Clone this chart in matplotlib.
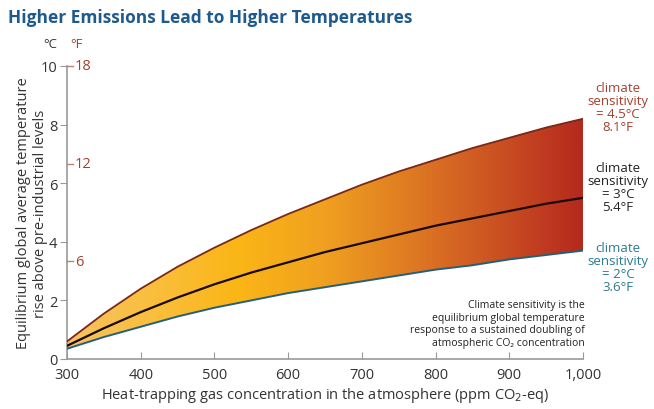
import numpy as np
import matplotlib
matplotlib.use("Agg")
import matplotlib.pyplot as plt
from matplotlib.colors import LinearSegmentedColormap

plt.rcParams['font.family'] = ['Open Sans', 'DejaVu Sans']

# Konzentration (ppm CO2-eq) und Erwärmung (°C)
ppm = [300, 350, 400, 450, 500, 550, 600, 650, 700, 750, 800, 850, 900, 950, 1000]
sens_45 = [0.6, 1.55, 2.4, 3.15, 3.8, 4.4, 4.95, 5.45, 5.95, 6.4, 6.8, 7.2, 7.55, 7.9, 8.2]
sens_30 = [0.45, 1.05, 1.6, 2.1, 2.55, 2.95, 3.3, 3.65, 3.95, 4.25, 4.55, 4.8, 5.05, 5.3, 5.5]
sens_20 = [0.35, 0.75, 1.1, 1.45, 1.75, 2.0, 2.25, 2.45, 2.65, 2.85, 3.05, 3.2, 3.4, 3.55, 3.7]

x_ticks = [300, 400, 500, 600, 700, 800, 900, 1000]
x_labels = ['300', '400', '500', '600', '700', '800', '900', '1,000']
c_ticks = [0, 2, 4, 6, 8, 10]
f_ticks = [6, 12, 18]

grey = '#9a9a9a'
red_txt = '#a3402e'
teal = '#2b7a8f'

fig = plt.figure(figsize=(6.54, 4.10), dpi=100)
ax = fig.add_axes([67/654, 50/410, 516/654, 293/410])
ax.set_xlim(300, 1000)
ax.set_ylim(0, 10)

# Farbverlauf im Band zwischen 2°C und 4.5°C
cmap = LinearSegmentedColormap.from_list('band', [
    (0.0, '#f7c262'), (0.15, '#f9bf40'), (0.33, '#fbb616'), (0.5, '#efa020'),
    (0.65, '#e07e22'), (0.8, '#cf5a22'), (0.93, '#bf3a20'), (1.0, '#b42a1c')])
band = ax.fill_between(ppm, sens_20, sens_45, color='none', lw=0)
grad = np.linspace(0, 1, 400).reshape(1, -1)
im = ax.imshow(grad, cmap=cmap, extent=[300, 1000, 0, 10], aspect='auto',
               origin='lower', zorder=1)
path = band.get_paths()[0]
im.set_clip_path(path, transform=ax.transData)

ax.plot(ppm, sens_45, color='#7a2818', lw=1.3, zorder=3)
ax.plot(ppm, sens_30, color='#1a0a05', lw=1.6, zorder=3)
ax.plot(ppm, sens_20, color='#255f78', lw=1.4, zorder=3)

for s in ['top', 'right']:
    ax.spines[s].set_visible(False)
for s in ['left', 'bottom']:
    ax.spines[s].set_color(grey)
    ax.spines[s].set_linewidth(1.2)

ax.set_xticks(x_ticks)
ax.set_xticklabels(x_labels)
ax.set_yticks(c_ticks)
ax.tick_params(axis='x', direction='in', length=5, color=grey, labelsize=10.5,
               labelcolor='#333333', pad=6)
ax.tick_params(axis='y', direction='out', length=5, color=grey, labelsize=10.5,
               labelcolor='#333333', pad=2)

# Fahrenheit-Skala rechts neben der Achse
for f in f_ticks:
    c = f / 1.8
    ax.plot([300, 308], [c, c], color='#c08070', lw=1.0, clip_on=False, zorder=4)
    ax.text(311, c, str(f), color=red_txt, fontsize=10.5, va='center', ha='left')

fig.text(50/654, 1 - 45/410, '°C', fontsize=9.5, color='#333333', ha='center', va='center')
fig.text(76/654, 1 - 45/410, '°F', fontsize=9.5, color=red_txt, ha='center', va='center')

ax.set_xlabel('Heat-trapping gas concentration in the atmosphere (ppm CO$_2$-eq)',
              fontsize=10.5, color='#333333', labelpad=2)
ax.set_ylabel('Equilibrium global average temperature\nrise above pre-industrial levels',
              fontsize=10.5, color='#333333', linespacing=1.2)
ax.yaxis.set_label_coords(-0.036, 0.5)

fig.text(8/654, 1 - 18/410, 'Higher Emissions Lead to Higher Temperatures',
         fontsize=12.5, fontweight='bold', color='#1f5a8c', ha='left', va='center')

fig.text(618/654, 1 - 108/410, 'climate\nsensitivity\n= 4.5°C\n8.1°F', color=red_txt,
         fontsize=9.5, ha='center', va='center', linespacing=1.0)
fig.text(618/654, 1 - 188/410, 'climate\nsensitivity\n= 3°C\n5.4°F', color='#222222',
         fontsize=9.5, ha='center', va='center', linespacing=1.0)
fig.text(618/654, 1 - 268/410, 'climate\nsensitivity\n= 2°C\n3.6°F', color=teal,
         fontsize=9.5, ha='center', va='center', linespacing=1.0)

fig.text(585/654, 1 - 349/410, 'Climate sensitivity is the\nequilibrium global temperature\n'
         'response to a sustained doubling of\natmospheric CO₂ concentration',
         fontsize=7.5, color='#222222', ha='right', va='bottom', linespacing=1.2)

fig.savefig('out.png', dpi=100)
